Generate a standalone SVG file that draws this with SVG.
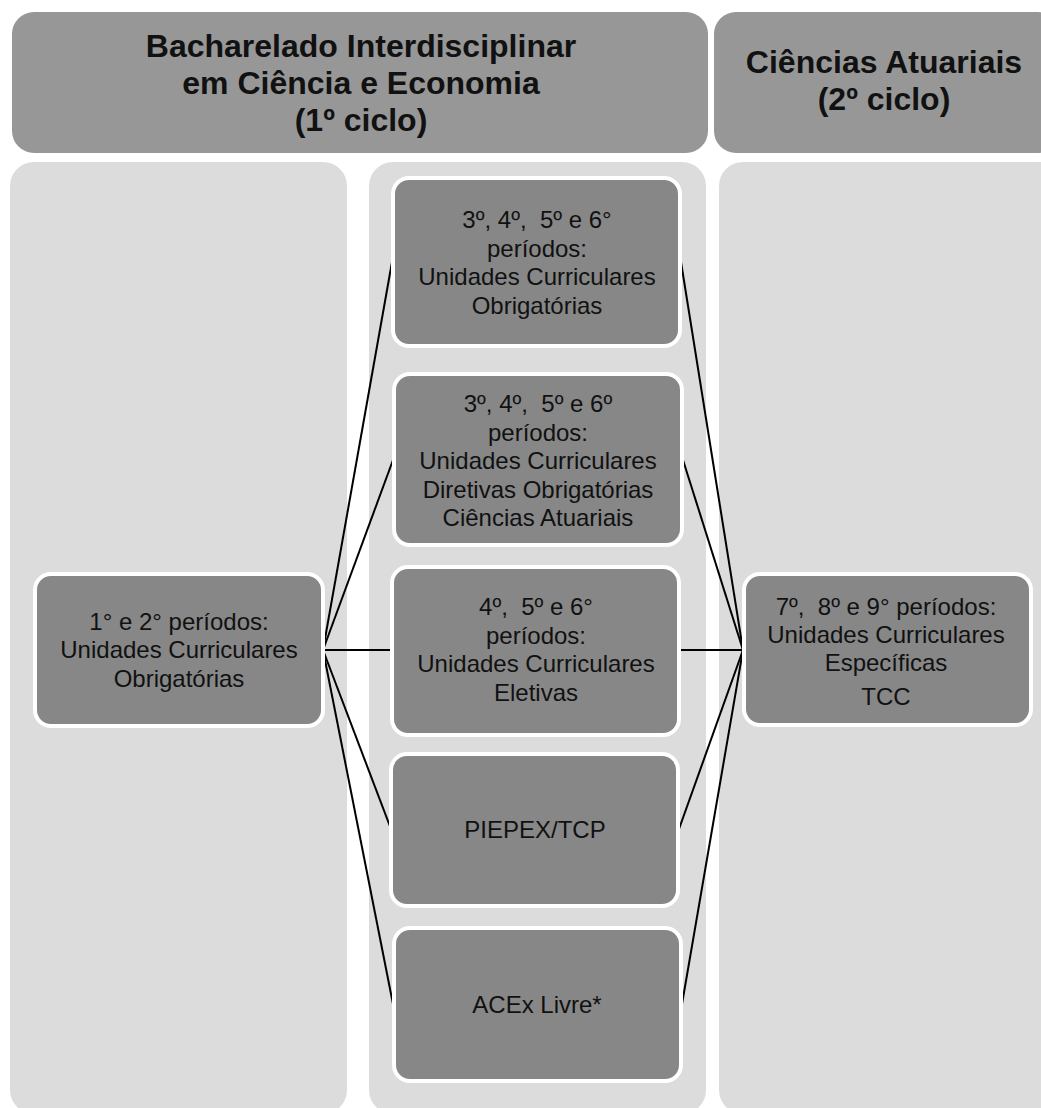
<svg xmlns="http://www.w3.org/2000/svg" width="1041" height="1108" viewBox="0 0 1041 1108">
<defs>
<style>
.hdr{fill:#979797;}
.col{fill:#dcdcdc;}
.node{fill:#878787;stroke:#ffffff;stroke-width:4;}
.ht{font-family:"Liberation Sans",Arial,sans-serif;font-size:32px;font-weight:bold;fill:#111;text-anchor:middle;}
.nt{font-family:"Liberation Sans",Arial,sans-serif;font-size:24px;fill:#111;text-anchor:middle;}
.conn line{stroke:#000;stroke-width:2;}
</style>
</defs>
<rect width="1041" height="1108" fill="#ffffff"/>
<g id="header-1">
<rect class="hdr" x="12" y="12" width="696" height="141" rx="22"/>
<text class="ht"><tspan x="361" y="57">Bacharelado Interdisciplinar</tspan><tspan x="361" y="94">em Ciência e Economia</tspan><tspan x="361" y="131">(1º ciclo)</tspan></text>
</g>
<g id="header-2">
<rect class="hdr" x="714" y="12" width="345" height="141" rx="22"/>
<text class="ht"><tspan x="884" y="73">Ciências Atuariais</tspan><tspan x="884" y="110">(2º ciclo)</tspan></text>
</g>
<g id="column-1"><rect class="col" x="10" y="162" width="337" height="952" rx="24"/></g>
<g id="column-2"><rect class="col" x="369" y="162" width="337" height="952" rx="24"/></g>
<g id="column-3"><rect class="col" x="719" y="162" width="345" height="952" rx="24"/></g>
<g id="connectors" class="conn">
<line x1="323" y1="650" x2="392" y2="262"/>
<line x1="323" y1="650" x2="393" y2="460"/>
<line x1="323" y1="650" x2="391" y2="650"/>
<line x1="323" y1="650" x2="391" y2="829"/>
<line x1="323" y1="650" x2="393" y2="1004"/>
<line x1="681" y1="262" x2="743" y2="650"/>
<line x1="683" y1="460" x2="743" y2="650"/>
<line x1="680" y1="650" x2="743" y2="650"/>
<line x1="679" y1="829" x2="743" y2="650"/>
<line x1="682" y1="1004" x2="743" y2="650"/>
</g>
<g id="node-left">
<rect class="node" x="35" y="574" width="288" height="152" rx="16"/>
<text class="nt"><tspan x="179" y="630">1° e 2° períodos:</tspan><tspan x="179" y="658">Unidades Curriculares</tspan><tspan x="179" y="687">Obrigatórias</tspan></text>
</g>
<g id="node-mid-1">
<rect class="node" x="393" y="178" width="287" height="168" rx="16"/>
<text class="nt" xml:space="preserve"><tspan x="537" y="228">3º, 4º,  5º e 6°</tspan><tspan x="537" y="257">períodos:</tspan><tspan x="537" y="285">Unidades Curriculares</tspan><tspan x="537" y="314">Obrigatórias</tspan></text>
</g>
<g id="node-mid-2">
<rect class="node" x="394" y="374" width="288" height="171" rx="16"/>
<text class="nt" xml:space="preserve"><tspan x="538" y="412">3º, 4º,  5º e 6º</tspan><tspan x="538" y="441">períodos:</tspan><tspan x="538" y="469">Unidades Curriculares</tspan><tspan x="538" y="498">Diretivas Obrigatórias</tspan><tspan x="538" y="526">Ciências Atuariais</tspan></text>
</g>
<g id="node-mid-3">
<rect class="node" x="392" y="567" width="287" height="168" rx="16"/>
<text class="nt" xml:space="preserve"><tspan x="536" y="615">4º,  5º e 6°</tspan><tspan x="536" y="644">períodos:</tspan><tspan x="536" y="672">Unidades Curriculares</tspan><tspan x="536" y="701">Eletivas</tspan></text>
</g>
<g id="node-mid-4">
<rect class="node" x="391" y="754" width="287" height="152" rx="16"/>
<text class="nt" x="535" y="838">PIEPEX/TCP</text>
</g>
<g id="node-mid-5">
<rect class="node" x="394" y="928" width="287" height="153" rx="16"/>
<text class="nt" x="537" y="1013">ACEx Livre*</text>
</g>
<g id="node-right">
<rect class="node" x="744" y="574" width="287" height="151" rx="16"/>
<text class="nt" xml:space="preserve"><tspan x="886" y="615">7º,  8º e 9° períodos:</tspan><tspan x="886" y="643">Unidades Curriculares</tspan><tspan x="886" y="671">Específicas</tspan><tspan x="886" y="705">TCC</tspan></text>
</g>
</svg>
